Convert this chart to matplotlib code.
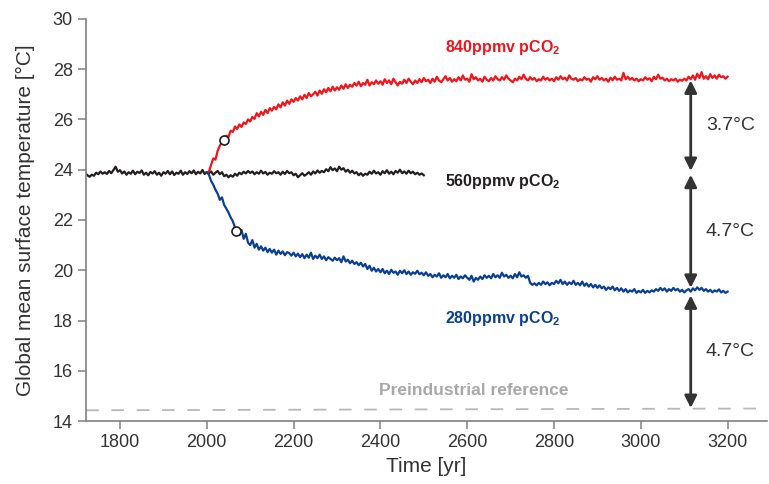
import matplotlib.pyplot as plt
import numpy as np

# valori (passo di 5 anni)
temp_560 = [23.86, 23.78, 23.72, 23.80, 23.76, 23.88, 23.82, 23.93, 23.84, 23.90,
            23.83, 23.95, 23.86, 23.99, 24.12, 23.92, 23.98, 23.85, 23.93, 23.80,
            23.90, 23.84, 23.96, 23.82, 23.92, 23.87, 23.97, 23.80, 23.88, 23.78,
            23.91, 23.85, 23.94, 23.80, 23.88, 23.76, 23.90, 23.84, 23.95, 23.82,
            23.93, 23.79, 23.88, 23.84, 23.96, 23.80, 23.90, 23.83, 23.94, 23.86,
            23.97, 23.82, 23.92, 23.85, 23.99, 23.83, 23.90, 23.86, 23.93, 23.80,
            23.88, 23.95, 23.82, 23.90, 23.74, 23.80, 23.70, 23.78, 23.72, 23.84,
            23.76, 23.88, 23.82, 23.92, 23.85, 23.95, 23.87, 23.93, 23.82, 23.90,
            23.84, 23.96, 23.85, 23.91, 23.80, 23.88, 23.84, 23.94, 23.86, 23.90,
            23.80, 23.92, 23.83, 23.95, 23.86, 23.90, 23.78, 23.84, 23.70, 23.78,
            23.86, 23.76, 23.82, 23.90, 23.80, 23.93, 23.85, 23.97, 23.88, 23.95,
            23.90, 24.02, 23.94, 24.10, 23.98, 24.05, 23.94, 24.12, 24.00, 24.06,
            23.92, 24.00, 23.88, 23.96, 23.85, 23.90, 23.78, 23.86, 23.76, 23.84,
            23.80, 23.92, 23.84, 23.96, 23.85, 23.90, 23.80, 23.94, 23.86, 23.98,
            23.84, 23.92, 23.82, 23.95, 23.88, 24.00, 23.86, 23.93, 23.84, 23.96,
            23.86, 23.92, 23.82, 23.88, 23.80, 23.85, 23.78]
anni_560 = 1720 + 5 * np.arange(len(temp_560))

temp_840 = [23.90, 23.92, 24.20, 24.45, 24.40, 24.75, 24.95, 25.10, 25.25, 25.35,
            25.30, 25.55, 25.50, 25.72, 25.62, 25.80, 25.70, 25.88, 25.82, 26.00,
            25.92, 26.10, 26.02, 26.25, 26.12, 26.30, 26.18, 26.38, 26.25, 26.45,
            26.35, 26.50, 26.40, 26.60, 26.48, 26.68, 26.55, 26.75, 26.62, 26.80,
            26.70, 26.85, 26.75, 26.92, 26.80, 26.98, 26.85, 27.05, 26.92, 27.00,
            27.10, 26.95, 27.15, 27.02, 27.20, 27.08, 27.25, 27.12, 27.30, 27.15,
            27.28, 27.18, 27.35, 27.22, 27.40, 27.25, 27.38, 27.30, 27.45, 27.35,
            27.50, 27.32, 27.45, 27.38, 27.58, 27.35, 27.48, 27.40, 27.55, 27.42,
            27.52, 27.38, 27.60, 27.45, 27.55, 27.40, 27.62, 27.48, 27.35, 27.50,
            27.42, 27.58, 27.45, 27.62, 27.50, 27.40, 27.55, 27.45, 27.60, 27.48,
            27.65, 27.52, 27.58, 27.45, 27.62, 27.50, 27.70, 27.55, 27.48, 27.60,
            27.72, 27.55, 27.65, 27.50, 27.60, 27.52, 27.68, 27.55, 27.75, 27.58,
            27.62, 27.50, 27.80, 27.60, 27.68, 27.55, 27.62, 27.50, 27.70, 27.58,
            27.52, 27.65, 27.55, 27.72, 27.60, 27.55, 27.68, 27.58, 27.75, 27.62,
            27.55, 27.48, 27.62, 27.55, 27.70, 27.60, 27.78, 27.62, 27.55, 27.68,
            27.58, 27.65, 27.52, 27.60, 27.55, 27.70, 27.58, 27.65, 27.55, 27.62,
            27.52, 27.68, 27.58, 27.72, 27.60, 27.66, 27.55, 27.75, 27.62, 27.58,
            27.65, 27.52, 27.60, 27.55, 27.68, 27.58, 27.62, 27.50, 27.68, 27.60,
            27.72, 27.58, 27.65, 27.55, 27.62, 27.50, 27.66, 27.56, 27.70, 27.58,
            27.62, 27.55, 27.85, 27.60, 27.70, 27.58, 27.65, 27.55, 27.62, 27.52,
            27.60, 27.55, 27.68, 27.58, 27.64, 27.52, 27.70, 27.60, 27.78, 27.62,
            27.66, 27.55, 27.62, 27.52, 27.60, 27.55, 27.62, 27.50, 27.58, 27.54,
            27.62, 27.55, 27.70, 27.60, 27.75, 27.58, 27.82, 27.65, 27.88, 27.62,
            27.72, 27.60, 27.80, 27.65, 27.75, 27.62, 27.78, 27.68, 27.72, 27.62,
            27.70]
anni_840 = 2000 + 5 * np.arange(len(temp_840))

temp_280 = [23.90, 23.80, 23.55, 23.40, 23.20, 23.05, 22.80, 22.90, 22.60, 22.45,
            22.30, 22.10, 21.95, 21.70, 21.55, 21.40, 21.60, 21.25, 21.45, 21.10,
            21.00, 21.20, 20.90, 21.05, 20.82, 20.95, 20.78, 20.90, 20.72, 20.85,
            20.70, 20.82, 20.62, 20.78, 20.65, 20.75, 20.60, 20.72, 20.68, 20.58,
            20.70, 20.55, 20.66, 20.52, 20.64, 20.48, 20.62, 20.50, 20.70, 20.45,
            20.58, 20.48, 20.62, 20.45, 20.55, 20.40, 20.52, 20.45, 20.38, 20.50,
            20.40, 20.48, 20.32, 20.55, 20.35, 20.42, 20.28, 20.38, 20.25, 20.32,
            20.20, 20.30, 20.15, 20.25, 20.05, 20.18, 19.98, 20.10, 19.95, 20.05,
            19.92, 20.05, 19.88, 19.98, 19.85, 20.02, 19.90, 19.95, 19.82, 19.98,
            19.88, 20.00, 19.85, 19.95, 19.82, 19.92, 19.86, 19.98, 19.84, 19.90,
            19.80, 19.92, 19.78, 19.85, 19.72, 19.82, 19.75, 19.88, 19.70, 19.80,
            19.72, 19.85, 19.68, 19.78, 19.70, 19.82, 19.65, 19.75, 19.68, 19.80,
            19.70, 19.62, 19.78, 19.55, 19.70, 19.62, 19.75, 19.65, 19.80, 19.70,
            19.78, 19.68, 19.85, 19.72, 19.80, 19.70, 19.90, 19.75, 19.82, 19.70,
            19.78, 19.68, 19.85, 19.72, 19.92, 19.75, 19.80, 19.70, 19.78, 19.50,
            19.42, 19.48, 19.40, 19.50, 19.42, 19.55, 19.45, 19.52, 19.40, 19.50,
            19.45, 19.58, 19.48, 19.62, 19.45, 19.55, 19.42, 19.52, 19.45, 19.58,
            19.42, 19.50, 19.40, 19.55, 19.38, 19.48, 19.35, 19.45, 19.32, 19.42,
            19.30, 19.40, 19.28, 19.35, 19.22, 19.32, 19.25, 19.35, 19.20, 19.30,
            19.18, 19.28, 19.15, 19.25, 19.12, 19.20, 19.15, 19.25, 19.10, 19.18,
            19.12, 19.22, 19.10, 19.18, 19.12, 19.20, 19.15, 19.25, 19.18, 19.30,
            19.20, 19.28, 19.15, 19.25, 19.18, 19.30, 19.20, 19.26, 19.15, 19.22,
            19.12, 19.20, 19.25, 19.15, 19.28, 19.20, 19.32, 19.22, 19.30, 19.18,
            19.25, 19.15, 19.22, 19.12, 19.20, 19.15, 19.24, 19.12, 19.18, 19.10,
            19.15]
anni_280 = 2000 + 5 * np.arange(len(temp_280))

# riferimento preindustriale
anni_ref = [1722, 3290]
temp_ref = [14.43, 14.50]

# cerchi
anni_cerchi = [2039, 2067]
temp_cerchi = [25.2, 21.55]

# frecce
x_freccia = 3115
frecce_alto = [27.55, 23.80, 19.00]
frecce_basso = [23.95, 19.30, 14.52]
frecce_testo = ["3.7°C", "4.7°C", "4.7°C"]

rosso = "#f2141b"
blu = "#0a3f96"
nero = "#231f20"
grigio = "#808080"

plt.rcParams['font.family'] = ['Liberation Sans', 'DejaVu Sans']
plt.rcParams['mathtext.fontset'] = 'custom'
plt.rcParams['mathtext.rm'] = 'Liberation Sans'
plt.rcParams['mathtext.bf'] = 'Liberation Sans:bold'

fig = plt.figure(figsize=(7.69, 4.84), dpi=100)
ax = fig.add_axes([0.112, 0.130, 0.885, 0.831])

ax.plot(anni_ref, temp_ref, color="#b8b8b8", lw=1.3, dashes=(7, 7))
ax.plot(anni_560, temp_560, color=nero, lw=1.6)
ax.plot(anni_840, temp_840, color=rosso, lw=1.6)
ax.plot(anni_280, temp_280, color=blu, lw=1.6)
ax.plot(anni_cerchi, temp_cerchi, 'o', ms=6.5, mfc='white', mec=nero, mew=1.2)

for alto, basso, testo in zip(frecce_alto, frecce_basso, frecce_testo):
    ax.annotate('', xy=(x_freccia, alto), xytext=(x_freccia, basso),
                arrowprops=dict(arrowstyle='<|-|>', color='#333333', lw=2,
                                mutation_scale=18, shrinkA=0, shrinkB=0))
    ax.text(x_freccia + 35, (alto + basso) / 2, testo, fontsize=14,
            color='#333333', va='center', ha='left')

etichette = [(28.85, "840ppmv pCO$_\\mathbf{2}$", rosso),
             (23.55, "560ppmv pCO$_\\mathbf{2}$", nero),
             (18.1, "280ppmv pCO$_\\mathbf{2}$", blu)]
for y, testo, col in etichette:
    ax.text(2548, y, testo, color=col, fontsize=11.5, fontweight='bold',
            va='center')
ax.text(2616, 15.2, "Preindustrial reference", color="#a8a8a8",
        fontsize=12.5, fontweight='bold', va='center', ha='center')

ax.set_xlim(1722, 3290)
ax.set_ylim(14, 30)
ax.set_xticks(range(1800, 3201, 200))
ax.set_yticks(range(14, 31, 2))
ax.spines['top'].set_visible(False)
ax.spines['right'].set_visible(False)
for s in ['left', 'bottom']:
    ax.spines[s].set_color(grigio)
    ax.spines[s].set_linewidth(1.2)
ax.tick_params(colors=grigio, labelcolor='#333333', labelsize=13,
               length=6, width=1.1)
ax.set_xlabel("Time [yr]", fontsize=15, color='#333333', labelpad=4)
ax.set_ylabel("Global mean surface temperature [°C]", fontsize=15,
              color='#333333', labelpad=13)

fig.savefig("out.png", dpi=100)
